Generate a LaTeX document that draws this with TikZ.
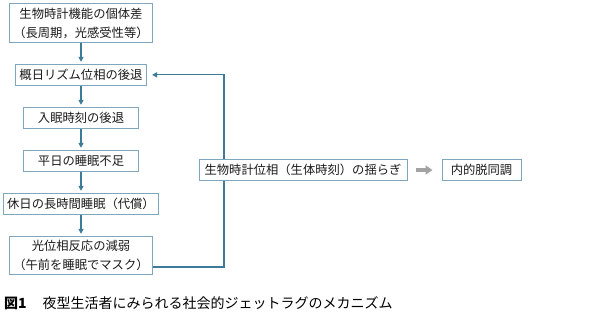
\documentclass[tikz,border=0pt]{standalone}
\usepackage{fontspec}
\setmainfont{Noto Sans CJK JP}
\usetikzlibrary{arrows.meta, positioning}
\definecolor{FlowBlue}{HTML}{3D7B98}
\definecolor{BoxEdge}{HTML}{7FA7BC}
\definecolor{ShiftGray}{HTML}{A3A3A3}
\definecolor{TextDark}{HTML}{1A1A1A}

\begin{document}
\begin{tikzpicture}[x=1pt, y=-1pt, node distance=21pt,
    stage/.style={draw=BoxEdge, line width=1pt, fill=white, text=TextDark, font=\fontsize{12.3}{19}\selectfont, inner xsep=4pt, inner ysep=4pt, minimum height=21pt, align=center},
    flow/.style={-{Triangle[length=5pt, width=5pt]}, FlowBlue, line width=1.2pt}]
    \useasboundingbox (0,0) rectangle (595,319);

    % Nodes
    \node[stage] (trait) at (81,23) {生物時計機能の個体差\\（長周期，光感受性等）};
    \node[stage, below=of trait] (phase) {概日リズム位相の後退};
    \node[stage, below=of phase, minimum width=115pt] (onset) {入眠時刻の後退};
    \node[stage, below=of onset, minimum width=115pt] (deficit) {平日の睡眠不足};
    \node[stage, below=of deficit] (oversleep) {休日の長時間睡眠（代償）};
    \node[stage, below=of oversleep] (mask) {光位相反応の減弱\\（午前を睡眠でマスク）};

    % Arrows
    \draw[flow, shorten >=2pt] (trait) -- (phase);
    \draw[flow, shorten >=2pt] (phase) -- (onset);
    \draw[flow, shorten >=2pt] (onset) -- (deficit);
    \draw[flow, shorten >=2pt] (deficit) -- (oversleep);
    \draw[flow, shorten >=2pt] (oversleep) -- (mask);
    \coordinate (loop) at (224,267);
    \draw[flow, shorten >=5pt] (mask.east |- loop) -- (loop) |- (phase.east);

    % Fluctuation and desynchrony
    \node[stage, minimum width=208pt] (fluct) at (303,170) {生物時計位相（生体時刻）の揺らぎ};
    \node[stage, minimum width=79pt] (desync) at (481.5,170) {内的脱同調};
    \draw[-{Triangle[length=7pt, width=9pt]}, ShiftGray, line width=3.5pt, shorten <=8pt, shorten >=9pt] (fluct) -- (desync);

    % Caption
    \node[anchor=base west, inner sep=0pt, text=black, font=\fontsize{14}{14}\selectfont] (caption) at (4,308) {\textbf{図1}\hspace{16pt}夜型生活者にみられる社会的ジェットラグのメカニズム};
\end{tikzpicture}
\end{document}
